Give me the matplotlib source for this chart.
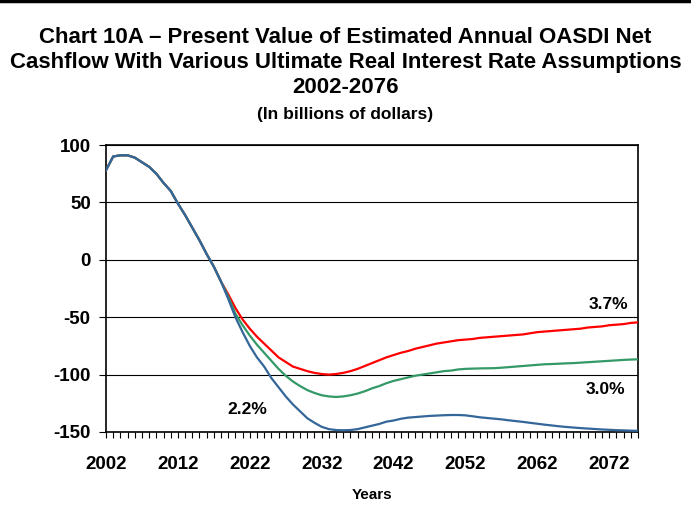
import numpy as np
import matplotlib
matplotlib.use("Agg")
import matplotlib.pyplot as plt
from matplotlib.lines import Line2D

plt.rcParams.update({"font.family": ["Liberation Sans", "DejaVu Sans"], "font.weight": "bold",
                     "axes.unicode_minus": False})

years = np.arange(2002, 2077)

# common early path (2002-2018), then the three scenarios diverge
early = [78, 90, 91, 91, 89, 85, 81, 75, 67, 60, 49, 39, 28, 17, 5, -6, -19]

red_tail = [-30, -42, -52, -60, -67, -73, -79, -85, -89, -93, -95, -97, -98.5, -99.5, -100,
            -99.5, -98.5, -97, -95, -92.5, -90, -87.5, -85, -83, -81, -79.5, -77.5, -76, -74.5,
            -73, -72, -71, -70, -69.5, -69, -68, -67.5, -67, -66.5, -66, -65.5, -65, -64, -63,
            -62.5, -62, -61.5, -61, -60.5, -60, -59, -58.5, -58, -57, -56.5, -56, -55, -54.5]
green_tail = [-32, -47, -57, -66, -74, -81, -88, -95, -101, -106, -110, -113.5, -116, -118,
              -119, -119.5, -119, -118, -116.5, -114.5, -112, -110, -107.5, -105.5, -104, -102.5,
              -101, -100, -99, -98, -97, -96.5, -95.5, -95, -94.8, -94.6, -94.5, -94.4, -94,
              -93.5, -93, -92.5, -92, -91.5, -91, -90.8, -90.5, -90.2, -90, -89.6, -89.2, -88.8,
              -88.4, -88, -87.6, -87.2, -86.9, -86.7]
blue_tail = [-34, -50, -63, -75, -85, -93, -103, -111, -119, -126, -132, -138, -142, -145.5,
             -147.5, -148.3, -148.5, -148.3, -147.5, -146, -144.5, -143, -141, -140, -138.5,
             -137.5, -137, -136.5, -136, -135.7, -135.4, -135.2, -135.2, -135.5, -136.3, -137.2,
             -137.8, -138.4, -139, -139.8, -140.5, -141.2, -142, -142.8, -143.6, -144.3, -145,
             -145.6, -146.1, -146.6, -147, -147.4, -147.8, -148.1, -148.4, -148.6, -148.8, -149]

rate_37 = early + red_tail
rate_30 = early + green_tail
rate_22 = early + blue_tail

RED = "#FF0000"; GREEN = "#339966"; BLUE = "#336699"

fig = plt.figure(figsize=(6.91, 5.29), dpi=100)
ax = fig.add_axes([106/691, 1-432/529, (638-106)/691, (432-145)/529])

ax.plot(years, rate_37, color=RED, lw=1.6, zorder=3)
ax.plot(years, rate_30, color=GREEN, lw=1.6, zorder=3)
ax.plot(years, rate_22, color=BLUE, lw=1.6, zorder=4)

ax.set_xlim(2002, 2076)
ax.set_ylim(-150, 100)
ax.set_yticks([100, 50, 0, -50, -100, -150])
ax.set_xticks(np.arange(2002, 2077, 10))
ax.set_xticks(years, minor=True)
ax.yaxis.grid(True, color="black", lw=0.8)
ax.set_axisbelow(True)
for s in ax.spines.values():
    s.set_linewidth(1.2)
ax.tick_params(axis="y", direction="out", length=5, width=0.8, labelsize=13.5, pad=6)
ax.tick_params(axis="x", which="both", direction="out", length=4, width=0.8,
               labelsize=13.5, pad=13)
for lab in ax.get_xticklabels() + ax.get_yticklabels():
    lab.set_fontweight("bold")
ax.set_xlabel("Years", fontsize=11, fontweight="bold", labelpad=11)

ax.text(2074.7, -39, "3.7%", fontsize=12.5, fontweight="bold", ha="right", va="center")
ax.text(2074.2, -113, "3.0%", fontsize=12.5, fontweight="bold", ha="right", va="center")
ax.text(2021.7, -130, "2.2%", fontsize=12.5, fontweight="bold", ha="center", va="center")

fig.text(0.5, 1-62.5/529, "Chart 10A \u2013 Present Value of Estimated Annual OASDI Net\n"
         "Cashflow With Various Ultimate Real Interest Rate Assumptions\n2002-2076",
         ha="center", va="center", fontsize=16, fontweight="bold", linespacing=1.22)
fig.text(0.5, 1-115/529, "(In billions of dollars)", ha="center", va="center",
         fontsize=12.5, fontweight="bold")
fig.add_artist(Line2D([0, 1], [0.998, 0.998], color="black", lw=2.5))

fig.savefig("out.png", dpi=100, facecolor="white")
